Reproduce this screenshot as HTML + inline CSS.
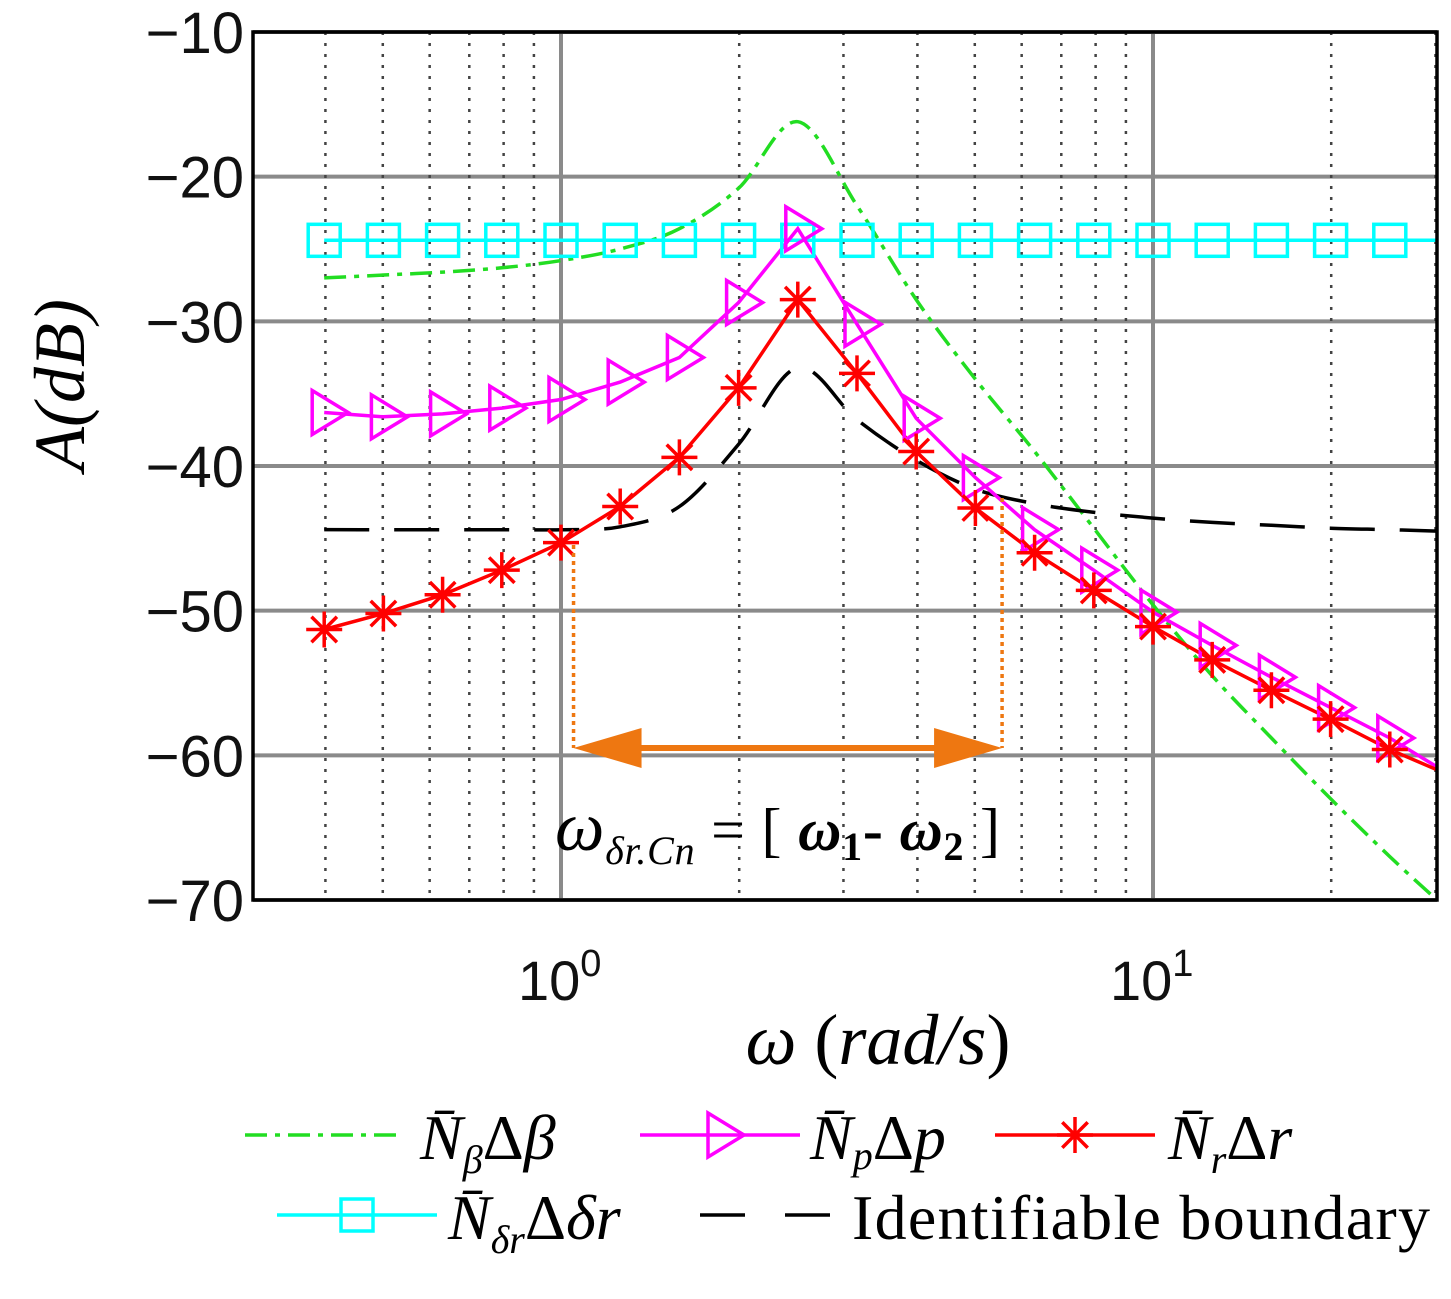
<!DOCTYPE html>
<html><head><meta charset="utf-8"><style>
html,body{margin:0;padding:0;background:#fff}
svg{display:block}
</style></head><body>
<svg id="chart" width="1451" height="1299" viewBox="0 0 1451 1299" xmlns="http://www.w3.org/2000/svg">
<g id="grid"></g>
<g id="series"></g>
<rect x="253" y="32" width="1184" height="868" fill="none" stroke="#000" stroke-width="3.5"/>
<g id="yticks" font-family="Liberation Sans, sans-serif" font-size="58" text-anchor="end" fill="#111"></g>
<g font-family="Liberation Sans, sans-serif" fill="#111">
<text x="518" y="1000" font-size="56">10<tspan dy="-24" font-size="38">0</tspan></text>
<text x="1110" y="1000" font-size="56">10<tspan dy="-24" font-size="38">1</tspan></text>
</g>
<text x="878" y="1064" font-family="Liberation Serif, serif" font-size="72" text-anchor="middle"><tspan font-style="italic">ω</tspan> (<tspan font-style="italic">rad/s</tspan>)</text>
<text transform="translate(84,385) rotate(-90)" font-family="Liberation Serif, serif" font-size="72" font-style="italic" text-anchor="middle">A(dB)</text>
<g id="annot"></g>
<text x="555" y="850" textLength="445" font-family="Liberation Serif, serif" font-size="60"><tspan font-style="italic" font-size="70">ω</tspan><tspan font-style="italic" font-size="40" dy="14">δr.Cn</tspan><tspan dy="-14"> = [ </tspan><tspan font-weight="bold" font-style="italic">ω</tspan><tspan font-weight="bold" font-size="40" dy="10">1</tspan><tspan font-weight="bold" dy="-10">- </tspan><tspan font-weight="bold" font-style="italic">ω</tspan><tspan font-weight="bold" font-size="40" dy="10">2</tspan><tspan dy="-10"> ]</tspan></text>
<g id="legend" font-family="Liberation Serif, serif" font-size="64"></g>
</svg>
<script>
const NS="http://www.w3.org/2000/svg";
const kExp=[-4,-3,-2,-1,0,1,2,3,4,5,6,7,8,9,10,11,12,13,14];
const redVals=[-51.3,-50.2,-48.9,-47.2,-45.3,-42.8,-39.4,-34.6,-28.5,-33.6,-39.0,-42.9,-46.0,-48.6,-51.1,-53.4,-55.5,-57.5,-59.6];
const magentaVals=[-36.3,-36.6,-36.4,-36.0,-35.4,-34.2,-32.5,-28.7,-23.6,-30.2,-36.7,-40.8,-44.4,-47.2,-50.1,-52.4,-54.6,-56.7,-58.8];
const greenVals=[-27.0,-26.8,-26.6,-26.3,-25.8,-25.0,-23.6,-20.8,-16.2,-22.0,-28.5,-34.0,-39.0,-44.3,-49.6,-54.5,-58.8,-63.0,-67.0];
const blackVals=[-44.4,-44.4,-44.4,-44.4,-44.4,-44.2,-42.8,-38.5,-33.2,-36.8,-39.6,-41.6,-42.6,-43.2,-43.6,-43.9,-44.1,-44.3,-44.4];
const cyanVals=[-24.4,-24.4,-24.4,-24.4,-24.4,-24.4,-24.4,-24.4,-24.4,-24.4,-24.4,-24.4,-24.4,-24.4,-24.4,-24.4,-24.4,-24.4,-24.4];
const endVals={red:-61,magenta:-60.8,green:-70,black:-44.5,cyan:-24.4};
const yTicks=[-10,-20,-30,-40,-50,-60,-70];
const minorX=[0.4,0.5,0.6,0.7,0.8,0.9,2,3,4,5,6,7,8,9,20,30];
const majorX=[1,10];
const band=[1.05,5.56];

const X=w=>561+592*Math.log10(w);
const Y=v=>32+(-10-v)*(868/60);
const wk=k=>Math.pow(10,k/10);
function el(t,a,p){const e=document.createElementNS(NS,t);for(const k in a)e.setAttribute(k,a[k]);(p||document.getElementById('series')).appendChild(e);return e;}

const grid=document.getElementById('grid');
yTicks.forEach(v=>{const l=el('line',{x1:253,x2:1437,y1:Y(v),y2:Y(v),stroke:'#8a8a8a','stroke-width':4},grid);

const t=el('text',{x:244,y:Y(v)+21},document.getElementById('yticks'));t.textContent=String(v).replace('-','−');
});
minorX.forEach(w=>{const l=el('line',{x1:X(w),x2:X(w),y1:32,y2:900,stroke:'#444','stroke-width':2.5,'stroke-dasharray':'3,8'},grid);
});
majorX.forEach(w=>{const l=el('line',{x1:X(w),x2:X(w),y1:32,y2:900,stroke:'#8a8a8a','stroke-width':4},grid);
});

function pts(vals,end){const p=vals.map((v,i)=>[X(wk(kExp[i])),Y(v)]);p.push([1437,Y(end)]);return p;}
function pathFor(vals,end){return pts(vals,end).map((q,i)=>(i?'L':'M')+q[0].toFixed(1)+','+q[1].toFixed(1)).join('');}
function smoothFor(vals,end){const p=pts(vals,end);let d='M'+p[0][0]+','+p[0][1];
for(let i=0;i<p.length-1;i++){const p0=p[i-1]||p[i],p1=p[i],p2=p[i+1],p3=p[i+2]||p2;
const c1=[p1[0]+(p2[0]-p0[0])/6,p1[1]+(p2[1]-p0[1])/6],c2=[p2[0]-(p3[0]-p1[0])/6,p2[1]-(p3[1]-p1[1])/6];
d+=`C${c1[0].toFixed(1)},${c1[1].toFixed(1)} ${c2[0].toFixed(1)},${c2[1].toFixed(1)} ${p2[0].toFixed(1)},${p2[1].toFixed(1)}`;}return d;}
function tri(g,x,y,c){return el('path',{d:`M${x-12},${y-22}L${x+24},${y}L${x-12},${y+22}Z`,fill:'none',stroke:c,'stroke-width':3.5},g);}
function sq(g,x,y,c){return el('rect',{x:x-16,y:y-16,width:32,height:32,fill:'none',stroke:c,'stroke-width':3.5},g);}
function star(g,x,y,c){const r=18;let d='';for(let a=0;a<4;a++){const t=a*Math.PI/4;d+=`M${x-r*Math.cos(t)},${y-r*Math.sin(t)}L${x+r*Math.cos(t)},${y+r*Math.sin(t)}`;}return el('path',{d:d,stroke:c,'stroke-width':3.5,fill:'none'},g);}

const s=document.getElementById('series');
let p;
p=el('path',{d:smoothFor(greenVals,endVals.green),fill:'none',stroke:'#22dd22','stroke-width':3.5,'stroke-dasharray':'22,8,5,8'});

p=el('path',{d:smoothFor(blackVals,endVals.black),fill:'none',stroke:'#000','stroke-width':3.5,'stroke-dasharray':'45,25'});

p=el('path',{d:pathFor(cyanVals,endVals.cyan),fill:'none',stroke:'#00ffff','stroke-width':3.5});

p=el('path',{d:pathFor(magentaVals,endVals.magenta),fill:'none',stroke:'#ff00ff','stroke-width':3.5});

p=el('path',{d:pathFor(redVals,endVals.red),fill:'none',stroke:'#ff0000','stroke-width':3.5});

kExp.forEach((k,i)=>{const x=X(wk(k));
let m=sq(s,x,Y(cyanVals[i]),'#00ffff');
m=tri(s,x,Y(magentaVals[i]),'#ff00ff');
m=star(s,x,Y(redVals[i]),'#ff0000');});

const an=document.getElementById('annot');const oc='#ee7711';
const x1=X(band[0]),x2=X(band[1]),ya=748;
let a;
a=el('line',{x1:x1,x2:x1,y1:545,y2:ya,stroke:oc,'stroke-width':3.5,'stroke-dasharray':'4,4'},an);
a=el('line',{x1:x2,x2:x2,y1:498,y2:ya,stroke:oc,'stroke-width':3.5,'stroke-dasharray':'4,4'},an);
a=el('line',{x1:x1+50,x2:x2-50,y1:ya,y2:ya,stroke:oc,'stroke-width':6},an);
a=el('path',{d:`M${x1},${ya}L${x1+68},${ya-20}L${x1+68},${ya+20}Z M${x2},${ya}L${x2-68},${ya-20}L${x2-68},${ya+20}Z`,fill:oc},an);

const lg=document.getElementById('legend');
function entry(name,x0,x1,y,c,dash,mk,html,tx,tl){const g=el('g',{},lg);
el('line',{x1:x0,x2:x1,y1:y,y2:y,stroke:c,'stroke-width':3.5,'stroke-dasharray':dash||''},g);
if(mk)mk(g,(x0+x1)/2,y,c);const t=el('text',{x:tx,y:y+24},g);if(tl){t.setAttribute('textLength',tl);}t.innerHTML=html;}
entry('legend-green',245,400,1135,'#22dd22','22,8,5,8',null,'<tspan font-style="italic">N̄</tspan><tspan font-style="italic" font-size="40" dy="14">β</tspan><tspan dy="-14">Δ</tspan><tspan font-style="italic">β</tspan>',420);
entry('legend-magenta',640,800,1135,'#ff00ff','',tri,'<tspan font-style="italic">N̄</tspan><tspan font-style="italic" font-size="40" dy="10">p</tspan><tspan dy="-10">Δ</tspan><tspan font-style="italic">p</tspan>',810);
entry('legend-red',995,1155,1135,'#ff0000','',star,'<tspan font-style="italic">N̄</tspan><tspan font-style="italic" font-size="40" dy="14">r</tspan><tspan dy="-14">Δ</tspan><tspan font-style="italic">r</tspan>',1168);
entry('legend-cyan',277,437,1215,'#00ffff','',sq,'<tspan font-style="italic">N̄</tspan><tspan font-style="italic" font-size="40" dy="14">δr</tspan><tspan dy="-14">Δ</tspan><tspan font-style="italic">δr</tspan>',448);
entry('legend-boundary',700,830,1215,'#000','45,40',null,'Identifiable boundary',852,578);
</script>
</body></html>
